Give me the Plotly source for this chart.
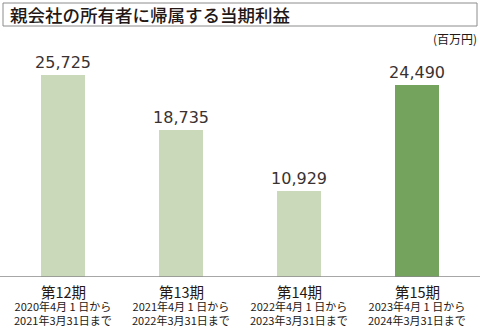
import plotly.graph_objects as go

# Net profit attributable to owners of the parent (millions of yen)
periods = ["第12期", "第13期", "第14期", "第15期"]
range_from = ["2020年4月 1 日から", "2021年4月 1 日から",
              "2022年4月 1 日から", "2023年4月 1 日から"]
range_to = ["2021年3月31日まで", "2022年3月31日まで",
            "2023年3月31日まで", "2024年3月31日まで"]
profits = [25725, 18735, 10929, 24490]
bar_colors = ["#cbd9bb", "#cbd9bb", "#cbd9bb", "#73a35d"]

FONT = "Noto Sans CJK JP"
NUM_FONT = "DejaVu Sans"
TEXT = "#231815"

fig = go.Figure()
fig.add_trace(go.Bar(
    x=periods,
    y=profits,
    marker=dict(color=bar_colors, line=dict(width=0)),
    width=0.375,
    text=[f"{v:,}" for v in profits],
    textposition="outside",
    constraintext="none",
    textfont=dict(family=NUM_FONT, size=16, color="#3a3230", weight=400),
    cliponaxis=False,
))

# Period names and fiscal-year ranges beneath each bar
for p, a, b in zip(periods, range_from, range_to):
    fig.add_annotation(x=p, y=0, xref="x", yref="y", yanchor="middle",
                       yshift=-14, text=p, showarrow=False,
                       font=dict(family=FONT, size=14.5, color=TEXT, weight=400))
    fig.add_annotation(x=p, y=0, xref="x", yref="y", yanchor="middle",
                       yshift=-35.5, text=f"{a}<br>{b}", showarrow=False,
                       font=dict(family=FONT, size=11, color=TEXT))

# Title box
fig.add_shape(type="rect", xref="paper", yref="paper",
              x0=-1 / 472, x1=1.0 + 1 / 472,
              y0=(328 - 26 - 51) / 227, y1=(328 - 3 - 51) / 227,
              line=dict(color="#8c8c8c", width=1), fillcolor="rgba(0,0,0,0)")
fig.add_annotation(x=0.009, y=(328 - 14.5 - 51) / 227, xref="paper", yref="paper",
                   xanchor="left", yanchor="middle", showarrow=False,
                   text="親会社の所有者に帰属する当期利益",
                   font=dict(family=FONT, size=17.5, color=TEXT, weight=500))
fig.add_annotation(x=1.0, y=(328 - 38.5 - 51) / 227, xref="paper", yref="paper",
                   xanchor="right", yanchor="middle", showarrow=False, xshift=3,
                   text="(百万円)", font=dict(family=FONT, size=12, color=TEXT))

# Baseline spanning the full width
fig.add_shape(type="line", xref="paper", yref="y", x0=-4 / 472, x1=476 / 472,
              y0=0, y1=0, line=dict(color="#8a8a8a", width=1.5))

fig.update_layout(
    width=480, height=328,
    margin=dict(l=4, r=4, t=50, b=51),
    plot_bgcolor="white", paper_bgcolor="white",
    showlegend=False,
    bargap=0,
    xaxis=dict(showticklabels=False, showgrid=False, zeroline=False,
               showline=False, ticks=""),
    yaxis=dict(range=[0, 28917], visible=False, showgrid=False, zeroline=False),
)

fig.write_html("out.html")
